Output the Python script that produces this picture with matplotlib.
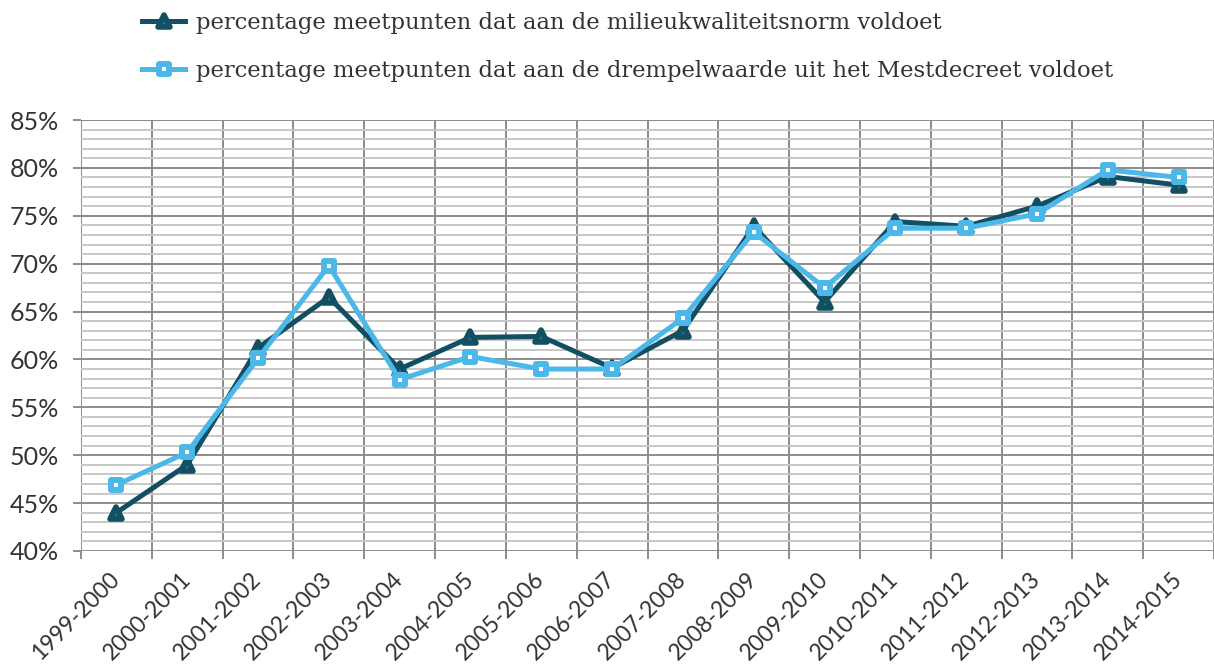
import matplotlib
matplotlib.use("Agg")
import matplotlib.pyplot as plt
from matplotlib.ticker import MultipleLocator, FuncFormatter
from matplotlib.lines import Line2D
from matplotlib.markers import MarkerStyle

categories = ["1999-2000", "2000-2001", "2001-2002", "2002-2003", "2003-2004",
              "2004-2005", "2005-2006", "2006-2007", "2007-2008", "2008-2009",
              "2009-2010", "2010-2011", "2011-2012", "2012-2013", "2013-2014",
              "2014-2015"]
milieukwaliteitsnorm = [44.0, 49.0, 61.2, 66.5, 59.0, 62.3, 62.4, 59.1, 63.0, 73.9,
                        66.0, 74.4, 73.9, 76.0, 79.1, 78.2]
drempelwaarde = [46.9, 50.3, 60.1, 69.8, 57.9, 60.3, 59.0, 59.0, 64.3, 73.3,
                 67.5, 73.7, 73.7, 75.2, 79.8, 79.0]
label_norm = "percentage meetpunten dat aan de milieukwaliteitsnorm voldoet"
label_drempel = "percentage meetpunten dat aan de drempelwaarde uit het Mestdecreet voldoet"

dark = "#134f63"
dark_face = "#2b7590"
light = "#4cb8ea"
text_col = "#333333"

W, H = 1214, 666
fig = plt.figure(figsize=(W / 100, H / 100), dpi=100)
ax = fig.add_axes([81 / W, 1 - 551 / H, (1214 - 81) / W, (551 - 120) / H])

tri = MarkerStyle("^", joinstyle="round")
sq = MarkerStyle("s", joinstyle="round")
style_norm = dict(color=dark, lw=3.6, marker=tri, ms=9, mew=4, mfc=dark_face,
                  mec=dark, solid_joinstyle="round")
style_drempel = dict(color=light, lw=3.6, marker=sq, ms=6.5, mew=4.3, mfc="white",
                     mec=light, solid_joinstyle="round")

x = list(range(len(categories)))
ax.plot(x, milieukwaliteitsnorm, zorder=3, **style_norm)
ax.plot(x, drempelwaarde, zorder=4, **style_drempel)

ax.set_xlim(-0.5, len(categories) - 0.5)
ax.set_ylim(40, 85)
ax.yaxis.set_major_locator(MultipleLocator(5))
ax.yaxis.set_minor_locator(MultipleLocator(1))
ax.yaxis.set_major_formatter(FuncFormatter(lambda v, p: f"{int(round(v))}%"))

ax.set_xticks([i - 0.5 for i in range(len(categories) + 1)], minor=False)
ax.set_xticklabels([])
ax.set_xticks(x, minor=True)
ax.set_xticklabels(categories, minor=True, rotation=45, ha="right", va="center",
                   rotation_mode="anchor", fontsize=16.5, family="Lato",
                   color=text_col)
ax.tick_params(axis="x", which="minor", length=0, pad=18)
ax.tick_params(axis="x", which="major", length=6, width=1.4, color="#8c8c8c")
ax.tick_params(axis="y", which="major", length=6, width=1.4, color="#8c8c8c",
               labelsize=18, labelcolor=text_col, pad=10)
ax.tick_params(axis="y", which="minor", length=0)
for lab in ax.get_yticklabels():
    lab.set_family("Lato")

ax.grid(True, axis="y", which="major", color="#8c8c8c", lw=1.4, zorder=1)
ax.grid(True, axis="y", which="minor", color="#c8c8c8", lw=1.4, zorder=0)
ax.grid(True, axis="x", which="major", color="#8c8c8c", lw=1.4, zorder=1)
ax.set_axisbelow(True)
for s in ax.spines.values():
    s.set_visible(False)

handles = [Line2D([], [], **style_norm), Line2D([], [], **style_drempel)]
fig.legend(handles, [label_norm, label_drempel], loc="upper left",
           bbox_to_anchor=(122 / W, 1.012), frameon=False,
           prop={"family": "DejaVu Serif", "size": 16.3},
           handlelength=1.9, handletextpad=0.45, labelspacing=1.15,
           labelcolor=text_col)

fig.savefig("out.png", dpi=100)
